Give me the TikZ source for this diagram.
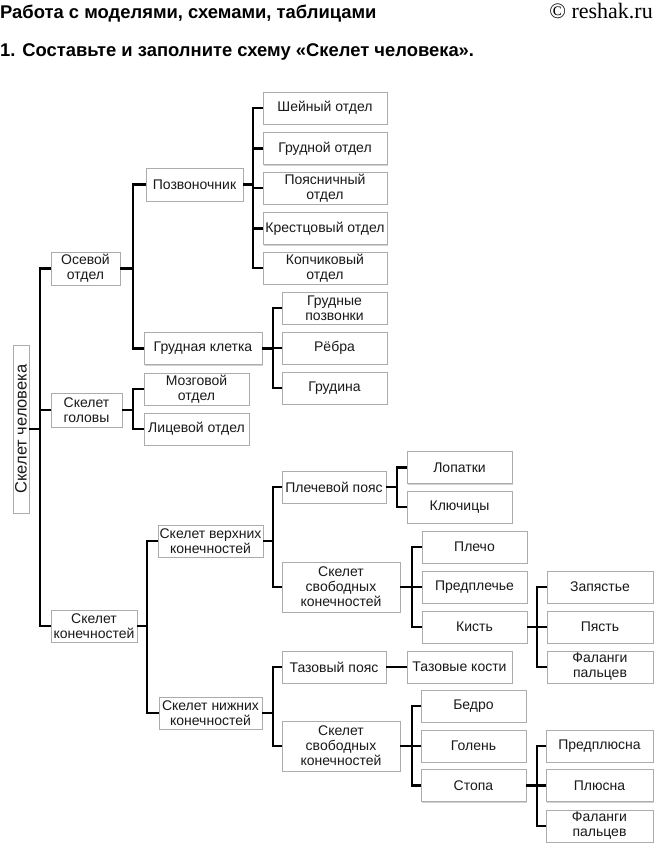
\documentclass[tikz,border=0pt]{standalone}
\usepackage{fontspec}
\setmainfont{Liberation Sans}
\newfontfamily\siteface{Liberation Serif}
\usetikzlibrary{shadows}

\tikzset{
  box/.style={draw=gray!65, line width=0.6pt, fill=white, text=black!90,
    align=center, inner sep=1pt, font=\fontsize{14}{15}\selectfont,
    minimum height=32pt,
    general shadow={fill=gray!35, shadow xshift=1pt, shadow yshift=-1pt}},
  link/.style={line width=2.2pt, black},
  head/.style={inner sep=0pt, font=\bfseries\fontsize{18.4}{18.4}\selectfont}
}

\begin{document}
\begin{tikzpicture}[x=1pt,y=-1pt]
\useasboundingbox (0,0) rectangle (655,846);
% header
\node[head, anchor=base west] (title) at (0,18) {Работа с моделями, схемами, таблицами};
\node[inner sep=0pt, anchor=base east, font=\siteface\fontsize{22}{22}\selectfont] (site) at (653,18) {© reshak.ru};
\node[head, anchor=base west] (task) at (0,56) {1. Составьте и заполните схему «Скелет человека».};
% root and first level
\node[box, rotate=90, minimum width=168pt, minimum height=16pt, font=\fontsize{16.5}{16.5}\selectfont] (root) at (21,429) {Скелет человека};
\node[box, minimum width=69pt, minimum height=33pt] (axial) at (85.5,268.5) {Осевой\\отдел};
\node[box, minimum width=71pt, minimum height=34pt] (skull) at (86.5,410) {Скелет\\головы};
\node[box, minimum width=86pt] (limbs) at (94,626) {Скелет\\конечностей};
% axial skeleton
\node[box, minimum width=97pt, minimum height=33pt] (spine) at (194.5,184.5) {Позвоночник};
\node[box, minimum width=118pt] (chest) at (203,348.5) {Грудная клетка};
\node[box, minimum width=124pt] (cervical) at (325,108) {Шейный отдел};
\node[box, minimum width=124pt] (thoracic) at (325,148.5) {Грудной отдел};
\node[box, minimum width=124pt] (lumbar) at (325,188) {Поясничный\\отдел};
\node[box, minimum width=124pt] (sacral) at (325,228.5) {Крестцовый отдел};
\node[box, minimum width=124pt] (coccyx) at (325,268) {Копчиковый\\отдел};
\node[box, minimum width=105pt] (tverteb) at (334.5,308) {Грудные\\позвонки};
\node[box, minimum width=105pt] (ribs) at (334.5,348) {Рёбра};
\node[box, minimum width=105pt] (sternum) at (334.5,388) {Грудина};
% head skeleton
\node[box, minimum width=105pt] (brain) at (196.5,389) {Мозговой\\отдел};
\node[box, minimum width=105pt] (face) at (196.5,429) {Лицевой отдел};
% upper limbs
\node[box, minimum width=105pt] (upper) at (210.5,541) {Скелет верхних\\конечностей};
\node[box, minimum width=104pt] (girdleup) at (334,487) {Плечевой пояс};
\node[box, minimum width=118pt, minimum height=50pt] (freeup) at (341,587) {Скелет\\свободных\\конечностей};
\node[box, minimum width=105pt] (scapula) at (459.5,467.5) {Лопатки};
\node[box, minimum width=105pt] (clavicle) at (459.5,507) {Ключицы};
\node[box, minimum width=105pt] (arm) at (474.5,547) {Плечо};
\node[box, minimum width=105pt] (forearm) at (474.5,587) {Предплечье};
\node[box, minimum width=105pt] (hand) at (474.5,627) {Кисть};
\node[box, minimum width=106pt] (wrist) at (600,587) {Запястье};
\node[box, minimum width=106pt] (metacarp) at (600,627) {Пясть};
\node[box, minimum width=106pt] (fingers) at (600,667) {Фаланги\\пальцев};
% lower limbs
\node[box, minimum width=103pt] (lower) at (210.5,713) {Скелет нижних\\конечностей};
\node[box, minimum width=104pt] (girdlelow) at (334,667) {Тазовый пояс};
\node[box, minimum width=105pt] (pelvis) at (459.5,667) {Тазовые кости};
\node[box, minimum width=118pt, minimum height=50pt] (freelow) at (341,746) {Скелет\\свободных\\конечностей};
\node[box, minimum width=105pt] (thigh) at (473.5,706) {Бедро};
\node[box, minimum width=105pt] (shin) at (473.5,746) {Голень};
\node[box, minimum width=105pt] (foot) at (473.5,785.5) {Стопа};
\node[box, minimum width=107pt] (tarsus) at (599.5,746) {Предплюсна};
\node[box, minimum width=107pt] (metatars) at (599.5,785.5) {Плюсна};
\node[box, minimum width=107pt] (toes) at (599.5,826) {Фаланги\\пальцев};
% connectors
\draw[link] (root.south) -- ++(11,0) |- (axial.west);
\draw[link] (root.south) -- ++(11,0) |- (skull.west);
\draw[link] (root.south) -- ++(11,0) |- (limbs.west);
\draw[link] (axial.east) -- ++(13,0) |- (spine.west);
\draw[link] (axial.east) -- ++(13,0) |- (chest.west);
\draw[link] (spine.east) -- ++(10,0) |- (cervical.west);
\draw[link] (spine.east) -- ++(10,0) |- (thoracic.west);
\draw[link] (spine.east) -- ++(10,0) |- (lumbar.west);
\draw[link] (spine.east) -- ++(10,0) |- (sacral.west);
\draw[link] (spine.east) -- ++(10,0) |- (coccyx.west);
\draw[link] (chest.east) -- ++(11,0) |- (tverteb.west);
\draw[link] (chest.east) -- ++(11,0) |- (ribs.west);
\draw[link] (chest.east) -- ++(11,0) |- (sternum.west);
\draw[link] (skull.east) -- ++(11,0) |- (brain.west);
\draw[link] (skull.east) -- ++(11,0) |- (face.west);
\draw[link] (limbs.east) -- ++(10,0) |- (upper.west);
\draw[link] (limbs.east) -- ++(10,0) |- (lower.west);
\draw[link] (upper.east) -- ++(10,0) |- (girdleup.west);
\draw[link] (upper.east) -- ++(10,0) |- (freeup.west);
\draw[link] (girdleup.east) -- ++(11,0) |- (scapula.west);
\draw[link] (girdleup.east) -- ++(11,0) |- (clavicle.west);
\draw[link] (freeup.east) -- ++(12,0) |- (arm.west);
\draw[link] (freeup.east) -- ++(12,0) |- (forearm.west);
\draw[link] (freeup.east) -- ++(12,0) |- (hand.west);
\draw[link] (hand.east) -- ++(10,0) |- (wrist.west);
\draw[link] (hand.east) -- ++(10,0) |- (metacarp.west);
\draw[link] (hand.east) -- ++(10,0) |- (fingers.west);
\draw[link] (lower.east) -- ++(11,0) |- (girdlelow.west);
\draw[link] (lower.east) -- ++(11,0) |- (freelow.west);
\draw[link] (girdlelow.east) -- (pelvis.west);
\draw[link] (freelow.east) -- ++(12,0) |- (thigh.west);
\draw[link] (freelow.east) -- ++(12,0) |- (shin.west);
\draw[link] (freelow.east) -- ++(12,0) |- (foot.west);
\draw[link] (foot.east) -- ++(11,0) |- (tarsus.west);
\draw[link] (foot.east) -- ++(11,0) |- (metatars.west);
\draw[link] (foot.east) -- ++(11,0) |- (toes.west);
\end{tikzpicture}
\end{document}
